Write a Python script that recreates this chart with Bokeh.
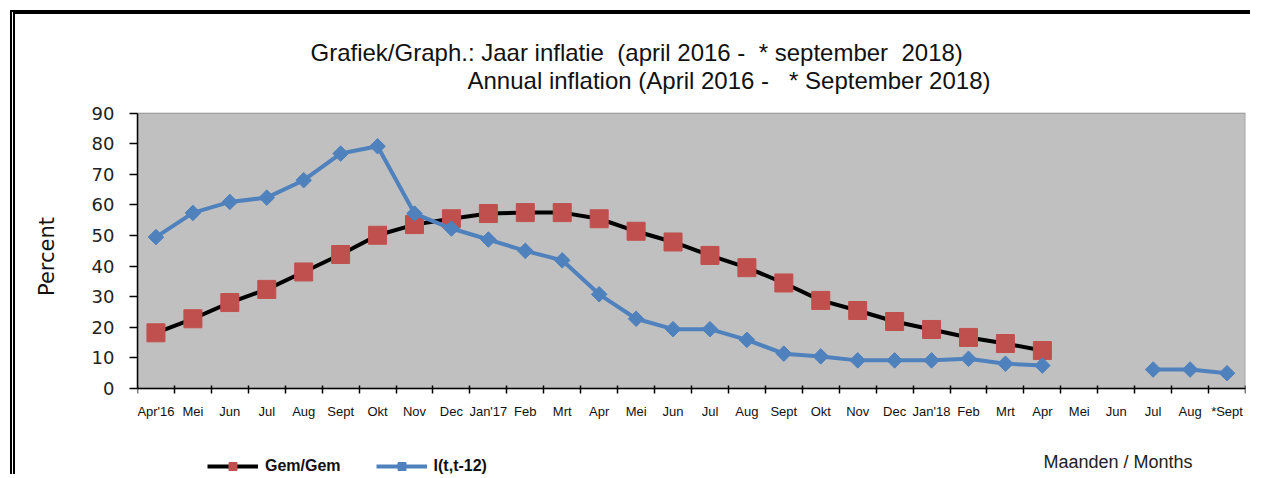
import math
from bokeh.plotting import figure
from bokeh.models import (FixedTicker, Legend, LegendItem, ColumnDataSource, Range1d,
                          Label, BoxAnnotation)
from bokeh.embed import file_html
from bokeh.resources import INLINE

nan = float("nan")

months = ["Apr'16", "Mei", "Jun", "Jul", "Aug", "Sept", "Okt", "Nov", "Dec", "Jan'17",
          "Feb", "Mrt", "Apr", "Mei", "Jun", "Jul", "Aug", "Sept", "Okt", "Nov", "Dec",
          "Jan'18", "Feb", "Mrt", "Apr", "Mei", "Jun", "Jul", "Aug", "*Sept"]

gem_gem = [18.2, 22.8, 28.1, 32.4, 38.1, 43.8, 50.1, 53.6, 55.5, 57.2,
           57.5, 57.5, 55.5, 51.4, 47.9, 43.5, 39.5, 34.5, 28.8, 25.5, 21.9,
           19.3, 16.7, 14.7, 12.4, nan, nan, nan, nan, nan]

i_t12 = [49.5, 57.4, 61.0, 62.4, 68.1, 76.8, 79.2, 57.2, 52.3, 48.7,
         45.0, 41.9, 30.8, 22.8, 19.4, 19.4, 15.9, 11.4, 10.5, 9.2, 9.2,
         9.2, 9.7, 8.1, 7.5, nan, nan, 6.2, 6.2, 5.0]

y_ticks = [0, 10, 20, 30, 40, 50, 60, 70, 80, 90]

title_line1 = "Grafiek/Graph.: Jaar inflatie \u00a0(april 2016 - \u00a0* september \u00a02018)"
title_line2 = "Annual inflation (April 2016 - \u00a0\u00a0* September 2018)"
x_title = "Maanden / Months"
y_title = "Percent"

xpos = list(range(1, len(months) + 1))
src = ColumnDataSource(dict(x=xpos, gem=gem_gem, itt=i_t12))

# the frame spans the whole canvas right of the y axis; the grey plot area is 0..90
p = figure(width=1240, height=464, output_backend="svg", toolbar_location=None,
           x_axis_location="above",
           x_range=Range1d(0.5, len(months) + 0.5), y_range=Range1d(-29.42, 115.73),
           min_border_left=122, min_border_right=10, min_border_top=20, min_border_bottom=0)
p.background_fill_color = "white"
p.border_fill_color = "white"
p.outline_line_color = None
p.grid.visible = False

p.add_layout(BoxAnnotation(bottom=y_ticks[0], top=y_ticks[-1], fill_color="#C0C0C0",
                           fill_alpha=1.0, line_color="#333333", line_width=1.5,
                           level="underlay"))

# series
r_gem_line = p.line("x", "gem", source=src, line_color="black", line_width=4)
r_gem_pts = p.scatter("x", "gem", source=src, marker="square", size=18,
                      fill_color="#C0504D", line_color="#C0504D")
r_itt_line = p.line("x", "itt", source=src, line_color="#4F81BD", line_width=4)
r_itt_pts = p.scatter("x", "itt", source=src, marker="square", size=11, angle=math.pi / 4,
                      fill_color="#4F81BD", line_color="#4F81BD")

# x axis, drawn at y = 0 with labels below the line
xa = p.xaxis[0]
xa.fixed_location = 0
xa.ticker = FixedTicker(ticks=xpos, minor_ticks=[i + 0.5 for i in range(0, len(months) + 1)])
xa.major_label_overrides = {i: m for i, m in zip(xpos, months)}
xa.major_tick_out = 0
xa.major_tick_in = 0
xa.minor_tick_in = 5
xa.minor_tick_out = 3
xa.minor_tick_line_color = "black"
xa.minor_tick_line_width = 1.5
xa.axis_line_color = "black"
xa.axis_line_width = 1.5
xa.major_label_standoff = -33
xa.major_label_text_font = "Liberation Sans"
xa.major_label_text_font_size = "13px"
xa.major_label_text_color = "#111111"

# y axis
ya = p.yaxis[0]
ya.bounds = (y_ticks[0], y_ticks[-1])
ya.ticker = FixedTicker(ticks=y_ticks)
ya.minor_tick_line_color = None
ya.major_tick_out = 8
ya.major_tick_in = 0
ya.major_tick_line_color = "black"
ya.major_tick_line_width = 1.5
ya.axis_line_color = "black"
ya.axis_line_width = 1.5
ya.major_label_standoff = 15
ya.major_label_text_font = "DejaVu Sans"
ya.major_label_text_font_size = "18px"
ya.major_label_text_color = "#222222"
ya.axis_label = y_title
ya.axis_label_text_font = "DejaVu Sans"
ya.axis_label_text_font_size = "21px"
ya.axis_label_text_font_style = "normal"
ya.axis_label_text_color = "#111111"
ya.axis_label_standoff = 30

# titles and axis caption (screen units from the frame's lower left corner)
p.add_layout(Label(x=173, y=426, x_units="screen", y_units="screen", text=title_line1,
                   text_font="Liberation Sans", text_font_size="24px", text_color="#111111",
                   text_baseline="middle", text_align="left"))
p.add_layout(Label(x=330, y=398, x_units="screen", y_units="screen", text=title_line2,
                   text_font="Liberation Sans", text_font_size="24px", text_color="#111111",
                   text_baseline="middle", text_align="left"))
p.add_layout(Label(x=906, y=17, x_units="screen", y_units="screen", text=x_title,
                   text_font="Liberation Sans", text_font_size="18px", text_color="#222222",
                   text_baseline="middle", text_align="left"))

legend = Legend(items=[LegendItem(label="Gem/Gem", renderers=[r_gem_line, r_gem_pts]),
                       LegendItem(label="I(t,t-12)", renderers=[r_itt_line, r_itt_pts])],
                location=(70, 2), orientation="horizontal",
                glyph_width=51, glyph_height=20, label_standoff=7, spacing=35,
                padding=0, margin=0, border_line_color=None, background_fill_alpha=0,
                label_text_font="Liberation Sans", label_text_font_size="16px",
                label_text_font_style="bold", label_text_color="#111111")
p.add_layout(legend, "center")

p.styles = {"margin-left": "10px", "margin-top": "10px",
            "border-top": "4px solid black", "border-left": "5px double black"}

open("out.html", "w").write(file_html(p, INLINE))
